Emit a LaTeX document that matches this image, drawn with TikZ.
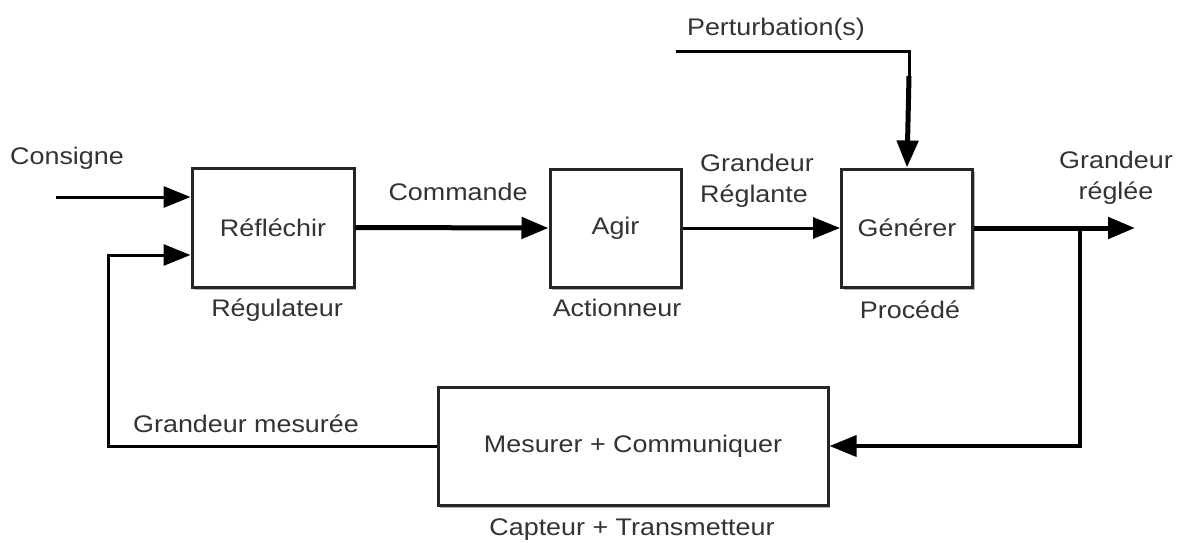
\documentclass[tikz,border=0pt]{standalone}
\usepackage{fontspec}
\setmainfont[FakeStretch=1.12]{Liberation Sans}
\usetikzlibrary{arrows.meta,shadows}
\begin{document}
\begin{tikzpicture}[x=1pt,y=-1pt,
  every node/.style={font=\fontsize{24}{31}\selectfont, text=black!80},
  blk/.style={draw=black!85, line width=3pt, fill=white, inner sep=0pt,
    drop shadow={shadow xshift=2pt, shadow yshift=-3pt, opacity=0.3, fill=black}},
  lbl/.style={inner sep=0pt, anchor=center},
  arr/.style={draw=black, -{Triangle[length=27pt,width=21pt]}},
  thin line/.style={line width=3pt},
  thick line/.style={line width=5pt},
]
\useasboundingbox (0,0) rectangle (1184,543);
\fill[white] (0,0) rectangle (1184,543);

% blocks
\node[blk, minimum width=162pt, minimum height=119pt] (refl) at (273,227.5) {Réfléchir};
\node[blk, minimum width=131pt, minimum height=118pt] (agir) at (615.5,228) {Agir};
\node[blk, minimum width=131pt, minimum height=118pt] (gen) at (907,228) {Générer};
\node[blk, minimum width=390pt, minimum height=118pt] (mes) at (633,446) {Mesurer + Communiquer};

% labels
\node[lbl] (lcons) at (67,158) {Consigne};
\node[lbl] (lreg) at (277,310) {Régulateur};
\node[lbl] (lcmd) at (458,192) {Commande};
\node[lbl] (lact) at (617,308) {Actionneur};
\node[lbl, align=left, anchor=west] (lgr) at (700,181) {Grandeur\\Réglante};
\node[lbl] (lproc) at (910,310) {Procédé};
\node[lbl] (lpert) at (776,29) {Perturbation(s)};
\node[lbl, align=center] (lout) at (1116,178) {Grandeur\\réglée};
\node[lbl] (lmes) at (246,424) {Grandeur mesurée};
\node[lbl] (lcapt) at (632,530) {Capteur + Transmetteur};

% coordinates
\coordinate (cin) at (56,197);
\coordinate (fbl) at (108,255);
\coordinate (pstart) at (676,52);
\coordinate (pcorner) at (909,52);
\coordinate (pmid) at (909,76);
\coordinate (branch) at (1080,228);
\coordinate (out) at (1135,228);

% connectors
\draw[arr, thin line] (cin) -- (cin -| refl.west);
\draw[arr, thin line] (mes.west) -| (fbl) -- (fbl -| refl.west);
\draw[arr, thick line] (refl.east) -- (agir.west);
\draw[arr, thin line] (agir.east) -- (gen.west);
\draw[thin line] (pstart) -- (pcorner) -- (pmid);
\draw[arr, thick line] (pmid) -- (gen.north);
\draw[arr, thick line] (gen.east) -- (out);
\draw[arr, line width=3.5pt] (branch) |- (mes.east);
\end{tikzpicture}
\end{document}
